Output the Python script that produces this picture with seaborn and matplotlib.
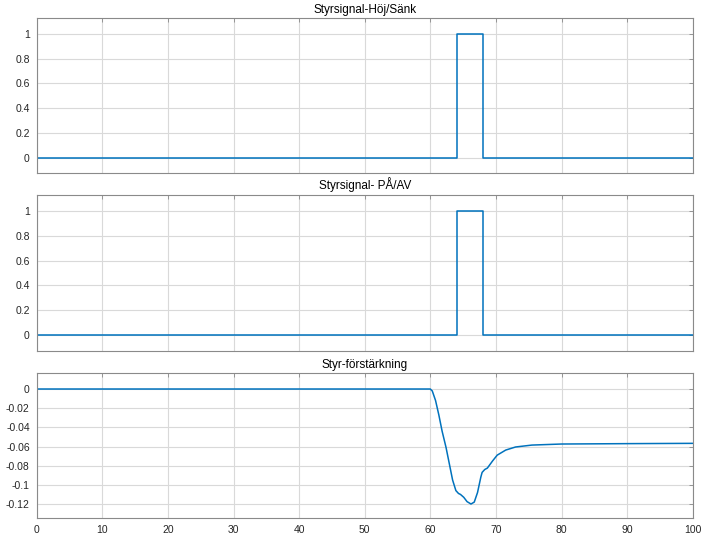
import matplotlib
matplotlib.use("Agg")
import matplotlib.pyplot as plt
import seaborn as sns
import pandas as pd

# ---- data ----
titles = ["Styrsignal-Höj/Sänk", "Styrsignal- PÅ/AV", "Styr-förstärkning"]

pulse1_x = [0, 64, 64, 68, 68, 100]
pulse1_y = [0, 0, 1, 1, 0, 0]

pulse2_x = [0, 64, 64, 68, 68, 100]
pulse2_y = [0, 0, 1, 1, 0, 0]

gain_x = [0, 60.0, 60.3, 60.8, 61.3, 61.8, 62.4, 62.9, 63.4, 63.9, 64.3, 64.6,
          65.1, 65.6, 66.2, 66.7, 67.2, 67.7, 67.9, 68.3, 68.7, 69.5, 70.2,
          71.5, 73.0, 75.5, 80.0, 90.0, 100]
gain_y = [0, 0, -0.002, -0.012, -0.027, -0.044, -0.061, -0.078, -0.095, -0.106,
          -0.109, -0.110, -0.113, -0.1175, -0.120, -0.118, -0.108, -0.092, -0.087,
          -0.084, -0.0825, -0.075, -0.069, -0.0637, -0.0605, -0.0585, -0.0574,
          -0.0570, -0.0567]

x_ticks = [0, 10, 20, 30, 40, 50, 60, 70, 80, 90, 100]
pulse_yticks = [0, 0.2, 0.4, 0.6, 0.8, 1]
pulse_yticklabels = ["0", "0.2", "0.4", "0.6", "0.8", "1"]
gain_yticks = [0, -0.02, -0.04, -0.06, -0.08, -0.1, -0.12]
gain_yticklabels = ["0", "-0.02", "-0.04", "-0.06", "-0.08", "-0.1", "-0.12"]

# ---- style ----
sns.set_style("white")
plt.rcParams["font.family"] = ["Liberation Sans", "DejaVu Sans"]
line_color = "#0072BD"
spine_color = "#8a8a8a"
text_color = "#262626"

fig = plt.figure(figsize=(7.01, 5.36), dpi=100)
W, H = 701, 536
def pos(l, t, r, b):
    return [l / W, 1 - b / H, (r - l) / W, (b - t) / H]

axes = [
    fig.add_axes(pos(36.7, 18.3, 692.7, 173)),
    fig.add_axes(pos(36.7, 195, 692.7, 351)),
    fig.add_axes(pos(36.7, 373.3, 692.7, 518)),
]

series = [(pulse1_x, pulse1_y), (pulse2_x, pulse2_y), (gain_x, gain_y)]

for i, (ax, (xs, ys)) in enumerate(zip(axes, series)):
    df = pd.DataFrame({"x": xs, "y": ys})
    sns.lineplot(data=df, x="x", y="y", ax=ax, estimator=None, sort=False,
                 color=line_color, linewidth=1.1)
    ax.set_xlim(0, 100)
    ax.set_xticks(x_ticks)
    ax.set_xlabel("")
    ax.set_ylabel("")
    ax.grid(True, color="#d9d9d9", linewidth=0.8)
    ax.set_axisbelow(True)
    for s in ax.spines.values():
        s.set_color(spine_color)
        s.set_linewidth(0.8)
        s.set_visible(True)
    ax.tick_params(direction="in", length=3, width=0.6, color=spine_color,
                   labelsize=7.5, labelcolor=text_color, top=True, right=True,
                   pad=5)
    ax.set_title(titles[i], fontsize=8.5, color="black", pad=4)
    if i < 2:
        ax.set_ylim(-0.125, 1.125)
        ax.set_yticks(pulse_yticks)
        ax.set_yticklabels(pulse_yticklabels)
        ax.set_xticklabels([])
    else:
        ax.set_ylim(-0.1346, 0.0164)
        ax.set_yticks(gain_yticks)
        ax.set_yticklabels(gain_yticklabels)
        ax.set_xticklabels([str(t) for t in x_ticks])

fig.savefig("out.png", dpi=100)
